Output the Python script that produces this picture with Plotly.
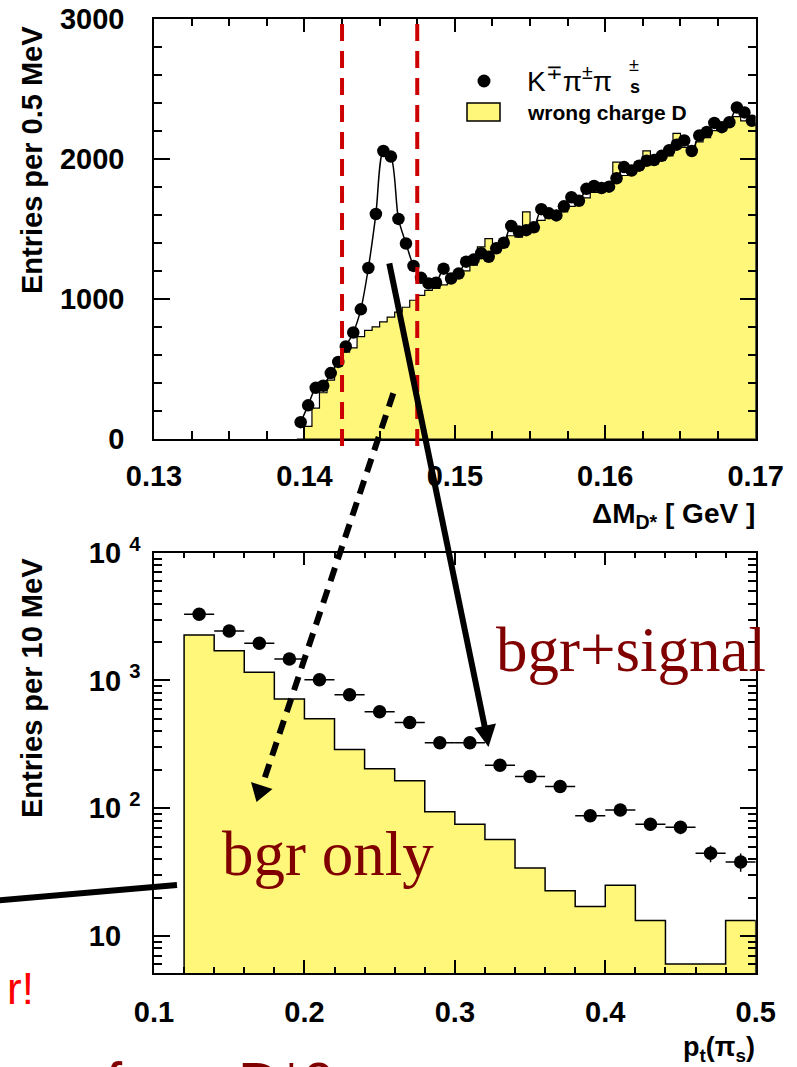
import numpy as np
import plotly.graph_objects as go

W, H = 797, 1067

# ---------------- top panel: Delta M(D*) distribution, 0.5 MeV bins ----------------
dm_centers = [0.13975, 0.14025, 0.14075, 0.14125, 0.14175, 0.14225, 0.14275, 0.14325,
              0.14375, 0.14425, 0.14475, 0.14525, 0.14575, 0.14625, 0.14675, 0.14725,
              0.14775, 0.14825, 0.14875, 0.14925, 0.14975, 0.15025, 0.15075, 0.15125,
              0.15175, 0.15225, 0.15275, 0.15325, 0.15375, 0.15425, 0.15475, 0.15525,
              0.15575, 0.15625, 0.15675, 0.15725, 0.15775, 0.15825, 0.15875, 0.15925,
              0.15975, 0.16025, 0.16075, 0.16125, 0.16175, 0.16225, 0.16275, 0.16325,
              0.16375, 0.16425, 0.16475, 0.16525, 0.16575, 0.16625, 0.16675, 0.16725,
              0.16775, 0.16825, 0.16875, 0.16925, 0.16975]
dm_signal = [120, 240, 365, 380, 470, 550, 660, 760, 925, 1220, 1605, 2055, 2015, 1570,
             1395, 1235, 1150, 1110, 1115, 1215, 1145, 1180, 1265, 1280, 1325, 1300, 1360,
             1400, 1520, 1480, 1490, 1510, 1640, 1610, 1595, 1660, 1725, 1700, 1785, 1805,
             1790, 1800, 1860, 1940, 1915, 1950, 1985, 1990, 2020, 2060, 2100, 2130, 2055,
             2165, 2190, 2255, 2225, 2260, 2365, 2330, 2270]
dm_wrong = [0, 90, 220, 330, 420, 520, 620, 650, 730, 775, 800, 835, 870, 905, 940, 990,
            1025, 1060, 1075, 1100, 1120, 1150, 1200, 1240, 1370, 1430, 1330, 1370, 1450,
            1440, 1620, 1480, 1560, 1580, 1570, 1620, 1660, 1680, 1720, 1760, 1770, 1790,
            1975, 1880, 1890, 1920, 2055, 1960, 1990, 2020, 2180, 2080, 2040, 2120, 2150,
            2200, 2200, 2230, 2300, 2270, 2250]
dm_bin_width = 0.0005
signal_window = [0.1425, 0.1475]

# ---------------- bottom panel: pt(pi_s), 20 MeV bins ----------------
pt_centers = [0.13, 0.15, 0.17, 0.19, 0.21, 0.23, 0.25, 0.27, 0.29, 0.31,
              0.33, 0.35, 0.37, 0.39, 0.41, 0.43, 0.45, 0.47, 0.49]
pt_signal = [3300, 2440, 1955, 1472, 1014, 774, 570, 468, 326, 326,
             217, 177, 148, 87.5, 97, 75, 71, 44.5, 38]
pt_wrong = [2270, 1710, 1160, 716, 502, 288, 204, 164, 94, 75,
            57, 34, 22.6, 17, 25, 13.2, 6.05, 6.05, 13.2]
pt_bin_width = 0.02

top_xticks = [0.13, 0.14, 0.15, 0.16, 0.17]
top_xlabels = ["0.13", "0.14", "0.15", "0.16", "0.17"]
top_yticks = [0, 1000, 2000, 3000]
bot_xticks = [0.1, 0.2, 0.3, 0.4, 0.5]
bot_xlabels = ["0.1", "0.2", "0.3", "0.4", "0.5"]
bot_yticks = [10, 100, 1000, 10000]
bot_ylabels = ["10 <sup>\u2007</sup>", "10 <sup>2</sup>", "10 <sup>3</sup>", "10 <sup>4</sup>"]

YELLOW = "#fff77a"
DARKRED = "#800000"


def step_polygon(centers, values, width, floor):
    xs, ys = [], []
    for c, v in zip(centers, values):
        lo, hi = c - width / 2, c + width / 2
        if not xs:
            xs += [lo]
            ys += [floor]
        xs += [lo, hi]
        ys += [v, v]
    xs += [xs[-1], xs[0]]
    ys += [floor, floor]
    return xs, ys


def px(x):
    return x / W


def py(y):
    return 1 - y / H


fig = go.Figure()

hx, hy = step_polygon(dm_centers, dm_wrong, dm_bin_width, 0)
fig.add_trace(go.Scatter(x=hx, y=hy, mode="lines", fill="toself", fillcolor=YELLOW,
                         line=dict(color="black", width=1.2), xaxis="x", yaxis="y",
                         hoverinfo="skip", showlegend=False))
fig.add_trace(go.Scatter(x=dm_centers, y=dm_signal, mode="lines+markers",
                         line=dict(color="black", width=1.5, shape="spline", smoothing=0.8),
                         marker=dict(color="black", size=12.5), xaxis="x", yaxis="y",
                         showlegend=False))

bx, by = step_polygon(pt_centers, pt_wrong, pt_bin_width, 1)
fig.add_trace(go.Scatter(x=bx, y=by, mode="lines", fill="toself", fillcolor=YELLOW,
                         line=dict(color="black", width=1.5), xaxis="x2", yaxis="y2",
                         hoverinfo="skip", showlegend=False))
fig.add_trace(go.Scatter(x=pt_centers, y=pt_signal, mode="markers",
                         marker=dict(color="black", size=13.5),
                         error_x=dict(type="constant", value=pt_bin_width / 2, color="black",
                                      thickness=1.5, width=0),
                         error_y=dict(type="data", array=list(np.sqrt(pt_signal)), color="black",
                                      thickness=1.5, width=0),
                         xaxis="x2", yaxis="y2", showlegend=False))

tickfont = dict(family="Liberation Sans, Arial", size=29, color="black", weight="bold")
axis_common = dict(showline=True, linecolor="black", linewidth=1.5, mirror="ticks",
                   ticks="inside", tickcolor="black", tickwidth=1.5, showgrid=False,
                   zeroline=False, tickfont=tickfont, automargin=False)
xdom = [154 / W, 755.7 / W]

fig.update_layout(
    width=W, height=H, margin=dict(l=0, r=0, t=0, b=0, pad=0, autoexpand=False),
    paper_bgcolor="white", plot_bgcolor="white", showlegend=False,
    xaxis=dict(domain=xdom, anchor="y", range=[0.13, 0.17], tickvals=top_xticks,
               ticktext=top_xlabels, ticklen=14, ticklabelstandoff=10,
               minor=dict(dtick=0.0025, tick0=0.13, ticks="inside", ticklen=8,
                          tickcolor="black", tickwidth=1.5), **axis_common),
    yaxis=dict(domain=[py(439), py(18.5)], anchor="x", range=[0, 3000], tickvals=top_yticks,
               ticklen=16, ticklabelstandoff=22,
               minor=dict(dtick=200, tick0=0, ticks="inside", ticklen=8,
                          tickcolor="black", tickwidth=1.5), **axis_common),
    xaxis2=dict(domain=xdom, anchor="y2", range=[0.1, 0.5], tickvals=bot_xticks,
                ticktext=bot_xlabels, ticklen=13, ticklabelstandoff=12,
                minor=dict(dtick=0.02, tick0=0.1, ticks="inside", ticklen=6,
                           tickcolor="black", tickwidth=1.5), **axis_common),
    yaxis2=dict(domain=[py(973), py(552.7)], anchor="x2", type="log", range=[0.7105, 4],
                tickvals=bot_yticks, ticktext=bot_ylabels, ticklen=16, ticklabelstandoff=6,
                minor=dict(tickvals=[6, 7, 8, 9, 20, 30, 40, 50, 60, 70, 80, 90,
                                     200, 300, 400, 500, 600, 700, 800, 900,
                                     2000, 3000, 4000, 5000, 6000, 7000, 8000, 9000],
                           ticks="inside", ticklen=8, tickcolor="black", tickwidth=1.5),
                **axis_common),
)

shapes = []
for xv in signal_window:
    shapes.append(dict(type="line", xref="x", yref="paper", x0=xv, x1=xv,
                       y0=py(446), y1=py(18.5),
                       line=dict(color="#cc0000", width=4, dash="17px,10px")))
shapes.append(dict(type="circle", xref="paper", yref="paper", x0=px(477.5), x1=px(490.5),
                   y0=py(87.5), y1=py(74.5), fillcolor="black", line=dict(width=0)))
shapes.append(dict(type="rect", xref="paper", yref="paper", x0=px(467), x1=px(500),
                   y0=py(121), y1=py(103), fillcolor=YELLOW,
                   line=dict(color="black", width=1.5)))
shapes.append(dict(type="line", xref="paper", yref="paper", x0=px(389.3), y0=py(263.3),
                   x1=px(485), y1=py(728), line=dict(color="black", width=6)))
shapes.append(dict(type="path", xref="paper", yref="paper",
                   path=f"M {px(474.5)},{py(728)} L {px(496)},{py(723.5)} L {px(488.5)},{py(747)} Z",
                   fillcolor="black", line=dict(width=0)))
shapes.append(dict(type="line", xref="paper", yref="paper", x0=px(393.3), y0=py(393.3),
                   x1=px(262), y1=py(786), line=dict(color="black", width=6, dash="14px,9px")))
shapes.append(dict(type="path", xref="paper", yref="paper",
                   path=f"M {px(251)},{py(782)} L {px(272.5)},{py(789)} L {px(256.5)},{py(802)} Z",
                   fillcolor="black", line=dict(width=0)))
shapes.append(dict(type="line", xref="paper", yref="paper", x0=px(-2), y0=py(900.5),
                   x1=px(177), y1=py(885), line=dict(color="black", width=6)))
fig.update_layout(shapes=shapes)

bold = dict(family="Liberation Sans, Arial", color="black", weight="bold")
anns = []


def ann(text, x, y, size, xanchor="left", yanchor="middle", font=None, angle=0):
    f = dict(font or bold)
    f["size"] = size
    anns.append(dict(text=text, x=px(x), y=py(y), xref="paper", yref="paper",
                     xanchor=xanchor, yanchor=yanchor, showarrow=False, font=f,
                     textangle=angle))


ann("Entries per 0.5 MeV", 32, 160, 29, "center", "middle", angle=-90)
ann("Entries per 10 MeV", 32, 688, 29, "center", "middle", angle=-90)
ann("ΔM<sub>D*</sub> [ GeV ]", 757, 515, 28, "right", "middle")
ann("p<sub>t</sub>(π<sub>s</sub>)", 757, 1049, 27, "right", "middle")
reg = dict(family="Liberation Sans, Arial", color="black")
ann("K<sup>∓</sup>π<sup>±</sup>π", 525, 79, 28, "left", "middle", font=reg)
ann("±", 627, 65, 18, "left", "middle", font=reg)
ann("s", 628, 87, 18, "left", "middle", font=bold)
ann("wrong charge D", 525, 112, 21, "left", "middle")
serif = dict(family="Liberation Serif, Times New Roman", color=DARKRED)
ann("bgr+signal", 494, 650, 63, "left", "middle", font=serif)
ann("bgr only", 220, 854, 63, "left", "middle", font=serif)
ann("r!", 36, 988, 44, "right", "middle", font=dict(family="Liberation Sans, Arial", color="#ff0000"))
ann("from D*0", 104, 1082, 58, "left", "middle", font=dict(family="Liberation Sans, Arial", color=DARKRED))
fig.update_layout(annotations=anns)

fig.write_html("out.html")
